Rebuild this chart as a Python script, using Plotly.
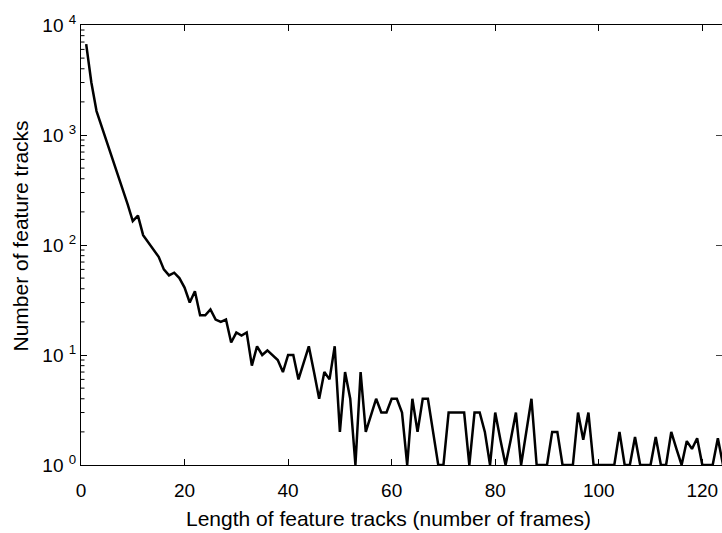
import plotly.graph_objects as go

# Track length (number of frames)
track_length = list(range(1, 125))

# Number of feature tracks for each length
track_count = [
    6700, 3000, 1650, 1200, 870, 630, 455, 330, 235, 165,
    185, 123, 106, 92, 78, 60, 53, 56, 50, 41,
    30, 38, 23, 23, 26, 21, 20, 21, 13, 16,
    15, 16, 8, 12, 10, 11, 10, 9, 7, 10,
    10, 6, 8.5, 12, 7, 4, 7, 6, 12, 2,
    7, 4, 1, 7, 2, 2.8, 4, 3, 3, 4,
    4, 3, 1, 4, 2, 4, 4, 2, 1, 1,
    3, 3, 3, 3, 1, 3, 3, 2, 1, 3,
    1.7, 1, 1.7, 3, 1, 2, 4, 1, 1, 1,
    2, 2, 1, 1, 1, 3, 1.7, 3, 1, 1,
    1, 1, 1, 2, 1, 1, 1.8, 1, 1, 1,
    1.8, 1, 1, 2, 1.4, 1, 1.65, 1.4, 1.75, 1,
    1, 1, 1.75, 1,
]

x_ticks = [0, 20, 40, 60, 80, 100, 120]
y_ticks = [1, 10, 100, 1000, 10000]
y_ticktext = ["10 <sup>0</sup>", "10 <sup>1</sup>", "10 <sup>2</sup>",
              "10 <sup>3</sup>", "10 <sup>4</sup>"]
y_minor = [m * 10 ** d for d in range(4) for m in range(2, 10)]

x_title = "Length of feature tracks (number of frames)"
y_title = "Number of feature tracks"

FONT = "Liberation Sans, Arial, Helvetica, sans-serif"
PLOT_W = 722 - 81

fig = go.Figure()
fig.add_trace(go.Scatter(
    x=track_length, y=track_count, mode="lines",
    line=dict(color="black", width=2.5),
    hoverinfo="skip", showlegend=False,
))
# invisible copy bound to the right-hand helper axis (for its tick marks)
fig.add_trace(go.Scatter(
    x=track_length, y=track_count, mode="lines", yaxis="y2",
    line=dict(color="rgba(0,0,0,0)", width=0),
    hoverinfo="skip", showlegend=False,
))

# minor log ticks on the left axis (tick marks, drawn as short shapes)
minor_shapes = [
    dict(type="line", xref="paper", yref="y",
         x0=0, x1=3.5 / PLOT_W, y0=v, y1=v,
         line=dict(color="black", width=1), layer="above")
    for v in y_minor
]

fig.update_layout(
    width=722, height=533,
    margin=dict(l=81, r=0, t=25, b=68),
    paper_bgcolor="white", plot_bgcolor="white",
    font=dict(family=FONT, size=19, color="black"),
    xaxis=dict(
        range=[0, 123.8], tickmode="array", tickvals=x_ticks,
        ticks="inside", ticklen=6, tickwidth=1, tickcolor="black",
        showline=True, linecolor="black", linewidth=1, mirror="ticks",
        showgrid=False, zeroline=False,
        tickfont=dict(size=19), ticklabelstandoff=8,
    ),
    yaxis=dict(
        type="log", range=[0, 4], tickmode="array",
        tickvals=y_ticks, ticktext=y_ticktext,
        ticks="inside", ticklen=6, tickwidth=1, tickcolor="black",
        showline=True, linecolor="black", linewidth=1, mirror=False,
        showgrid=False, zeroline=False,
        tickfont=dict(size=19),
    ),
    yaxis2=dict(
        type="log", range=[0, 4], overlaying="y", side="right",
        tickmode="array", tickvals=y_ticks, showticklabels=False,
        ticks="inside", ticklen=6, tickwidth=1, tickcolor="#444",
        showline=False, showgrid=False, zeroline=False,
    ),
    shapes=minor_shapes,
    annotations=[
        dict(text=x_title, xref="paper", yref="paper",
             x=(388.5 - 81) / PLOT_W, y=(465 - 518.5) / 440,
             xanchor="center", yanchor="middle", showarrow=False,
             font=dict(size=21)),
        dict(text=y_title, xref="paper", yref="paper",
             x=(20 - 81) / PLOT_W, y=(465 - 236.5) / 440, textangle=-90,
             xanchor="center", yanchor="middle", showarrow=False,
             font=dict(size=21)),
    ],
)

fig.write_html("out.html")
